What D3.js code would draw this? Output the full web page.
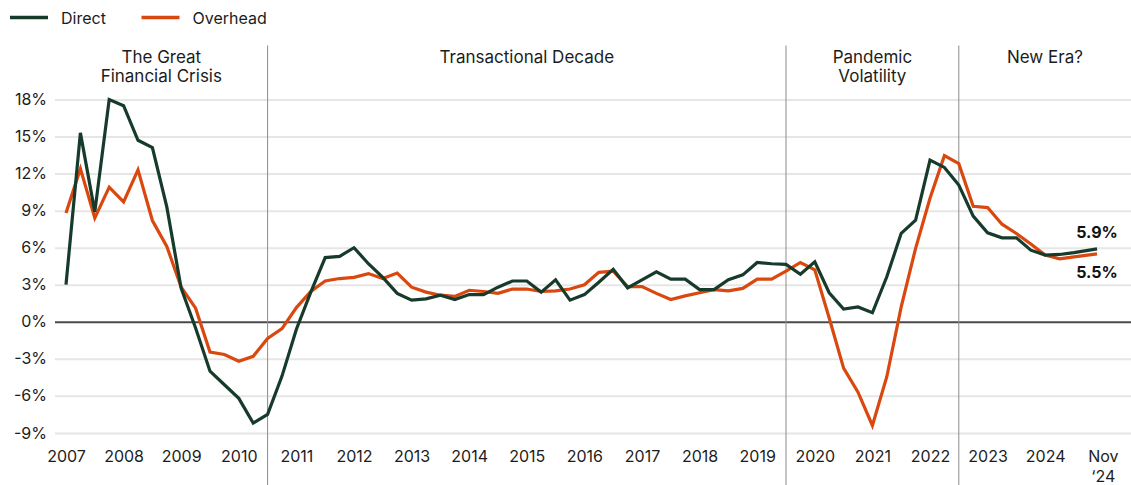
<!DOCTYPE html>
<html>
<head>
<meta charset="utf-8">
<script src="https://cdn.jsdelivr.net/npm/d3@7"></script>
<style>
  body { margin: 0; background: #fff; }
  svg { display: block; font-family: Inter, "Noto Sans", sans-serif; }
</style>
</head>
<body>
<div id="chart"></div>
<script>
// quarterly growth, 2007 Q1 .. 2024 Q3, then the Nov '24 reading
const direct = [
  3.0, 15.3, 8.9, 18.0, 17.5, 14.7, 14.1, 9.3,
  2.7, -0.5, -4.0, -5.1, -6.2, -8.2, -7.5, -4.4,
  -0.6, 2.4, 5.2, 5.3, 6.0, 4.7, 3.6, 2.3,
  1.75, 1.85, 2.15, 1.8, 2.2, 2.2, 2.8, 3.3,
  3.3, 2.4, 3.4, 1.75, 2.2, 3.2, 4.25, 2.75,
  3.4, 4.05, 3.45, 3.45, 2.6, 2.6, 3.4, 3.8,
  4.8, 4.7, 4.65, 3.85, 4.86, 2.35, 1.03, 1.2,
  0.73, 3.64, 7.16, 8.23, 13.1, 12.5, 11.07, 8.56,
  7.2, 6.8, 6.8, 5.8, 5.4, 5.45, 5.6, 5.9
];
const overhead = [
  8.8, 12.4, 8.4, 10.9, 9.7, 12.3, 8.2, 6.1,
  2.8, 1.1, -2.45, -2.65, -3.2, -2.8, -1.35, -0.55,
  1.15, 2.45, 3.3, 3.5, 3.6, 3.9, 3.5, 3.95,
  2.8, 2.4, 2.15, 2.05, 2.55, 2.45, 2.3, 2.65,
  2.65, 2.45, 2.5, 2.65, 3.0, 4.0, 4.1, 2.85,
  2.85, 2.3, 1.8, 2.1, 2.35, 2.6, 2.5, 2.7,
  3.45, 3.45, 4.1, 4.8, 4.2, 0.3, -3.75, -5.7,
  -8.4, -4.45, 1.2, 5.95, 10.0, 13.45, 12.8, 9.35,
  9.25, 7.9, 7.15, 6.3, 5.4, 5.1, 5.25, 5.5
];
const periods = d3.range(71).map(i => 2007 + i / 4).concat([2024.9]);

const seriesNames = ['Direct', 'Overhead'];
const seriesColors = ['#173b2b', '#d9480f'];

const tickYears = [2007, 2008, 2009, 2010, 2011, 2012, 2013, 2014, 2015,
  2016, 2017, 2018, 2019, 2020, 2021, 2022, 2023, 2024, 2025];
const tickLabels = ['2007', '2008', '2009', '2010', '2011', '2012', '2013', '2014', '2015',
  '2016', '2017', '2018', '2019', '2020', '2021', '2022', '2023', '2024', 'Nov\n‘24'];
const yTicks = [-9, -6, -3, 0, 3, 6, 9, 12, 15, 18];

const eraBreaks = [2010.5, 2019.5, 2022.5];
const eraNames = [['The Great', 'Financial Crisis'], ['Transactional Decade'], ['Pandemic', 'Volatility'], ['New Era?']];

const width = 1131;
const height = 485;
const plotLeft = 55;
const plotRight = 1131;
const textColor = '#1c1c1c';

const svg = d3.select('#chart')
  .append('svg')
  .attr('width', width)
  .attr('height', height);

const x = d3.scaleLinear([2007, 2025], [66, 1102.8]);
const y = d3.scaleLinear([-9, 18], [432.9, 99.5]);

// Y axis + gridlines
const yAxis = svg.append('g')
  .attr('transform', `translate(${plotLeft}, 0)`)
  .call(d3.axisLeft(y)
    .tickValues(yTicks)
    .tickFormat(d => d + '%')
    .tickSize(-(plotRight - plotLeft))
    .tickPadding(8));
yAxis.select('.domain').remove();
yAxis.selectAll('.tick line')
  .attr('stroke', d => d === 0 ? '#4a4a4a' : '#e6e6e6')
  .attr('stroke-width', 2);
yAxis.selectAll('.tick text')
  .attr('fill', textColor)
  .attr('font-size', 16)
  .attr('font-family', 'Inter, sans-serif');
// keep zero line above the other gridlines
yAxis.selectAll('.tick').filter(d => d === 0).raise();

// X axis
const xAxis = svg.append('g')
  .attr('transform', 'translate(0, 440)')
  .call(d3.axisBottom(x)
    .tickValues(tickYears)
    .tickFormat((d, i) => tickLabels[i])
    .tickSize(0)
    .tickPadding(11));
xAxis.select('.domain').remove();
xAxis.selectAll('.tick text')
  .attr('fill', textColor)
  .attr('font-size', 16)
  .attr('font-family', 'Inter, sans-serif')
  .each(function(d, i) {
    const parts = tickLabels[i].split('\n');
    if (parts.length < 2) return;
    const t = d3.select(this).text(null);
    parts.forEach((p, j) => {
      t.append('tspan')
        .attr('x', 0)
        .attr('dy', j === 0 ? '0.71em' : '1.2em')
        .text(p);
    });
    t.attr('dy', null);
  });

// Era dividers and labels
svg.append('g')
  .selectAll('line')
  .data(eraBreaks)
  .join('line')
  .attr('x1', d => x(d))
  .attr('x2', d => x(d))
  .attr('y1', 45.5)
  .attr('y2', height)
  .attr('stroke', '#8c8c8c')
  .attr('stroke-width', 1);

const eraBounds = [plotLeft, ...eraBreaks.map(d => x(d)), plotRight];
svg.append('g')
  .selectAll('text')
  .data(eraNames)
  .join('text')
  .attr('x', (d, i) => (eraBounds[i] + eraBounds[i + 1]) / 2)
  .attr('y', 63)
  .attr('text-anchor', 'middle')
  .attr('font-size', 17)
  .attr('fill', textColor)
  .selectAll('tspan')
  .data(d => d)
  .join('tspan')
  .attr('x', function() { return this.parentNode.getAttribute('x'); })
  .attr('dy', (d, i) => i === 0 ? 0 : 18.5)
  .text(d => d);

// Lines
const line = d3.line()
  .x((d, i) => x(periods[i]))
  .y(d => y(d));

[overhead, direct].forEach((values, k) => {
  const idx = k === 0 ? 1 : 0;
  svg.append('path')
    .datum(values)
    .attr('fill', 'none')
    .attr('stroke', seriesColors[idx])
    .attr('stroke-width', 3.2)
    .attr('d', line);
});

// End labels
const lastX = x(periods[periods.length - 1]);
const fmt = d3.format('.1f');
svg.append('text')
  .attr('x', lastX)
  .attr('y', y(direct[direct.length - 1]) - 10.5)
  .attr('text-anchor', 'middle')
  .attr('font-size', 16)
  .attr('font-weight', 700)
  .attr('fill', '#111')
  .text(fmt(direct[direct.length - 1]) + '%');
svg.append('text')
  .attr('x', lastX)
  .attr('y', y(overhead[overhead.length - 1]) + 24.5)
  .attr('text-anchor', 'middle')
  .attr('font-size', 16)
  .attr('font-weight', 700)
  .attr('fill', '#111')
  .text(fmt(overhead[overhead.length - 1]) + '%');

// Legend
const legendX = [10, 141.5];
const legend = svg.append('g')
  .selectAll('g')
  .data(seriesNames)
  .join('g')
  .attr('transform', (d, i) => `translate(${legendX[i]}, 17.5)`);
legend.append('line')
  .attr('x1', 0)
  .attr('x2', 38)
  .attr('stroke', (d, i) => seriesColors[i])
  .attr('stroke-width', 3.5);
legend.append('text')
  .attr('x', 51)
  .attr('y', 6)
  .attr('font-size', 16)
  .attr('fill', textColor)
  .text(d => d);
</script>
</body>
</html>
